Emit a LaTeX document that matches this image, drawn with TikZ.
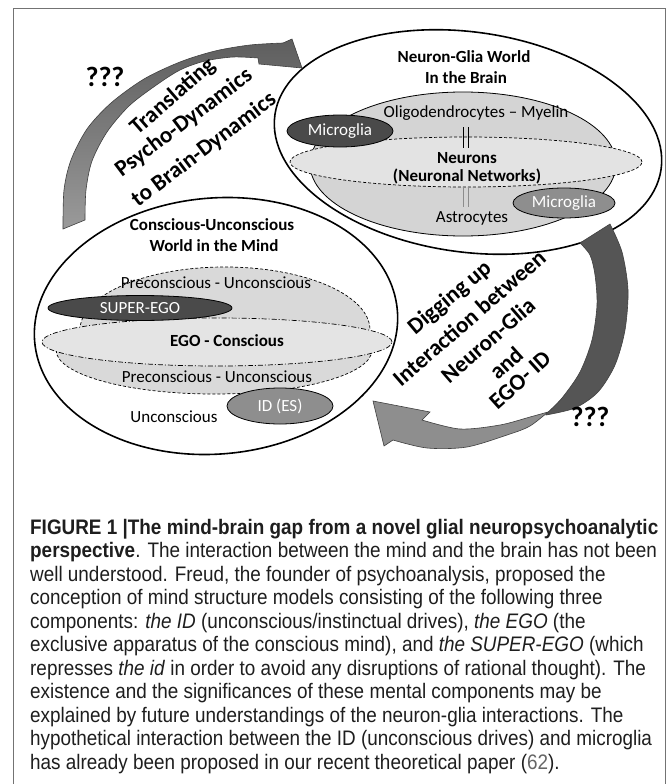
\documentclass[tikz,border=0pt]{standalone}
\usepackage{fontspec}
\setmainfont{Carlito}
\newfontfamily\capfont[FakeStretch=0.9]{Liberation Sans}
\usetikzlibrary{shapes.geometric}
\definecolor{gliafill}{HTML}{D4D4D4}
\definecolor{neurfill}{HTML}{E3E3E3}
\definecolor{prefill}{HTML}{D9D9D9}
\definecolor{egofill}{HTML}{E4E4E4}
\definecolor{darkfill}{HTML}{4A4A4A}
\definecolor{midfill}{HTML}{8E8E8E}
\definecolor{arrdark}{HTML}{5E5E5E}
\definecolor{arrlight}{HTML}{9A9A9A}
\definecolor{captext}{HTML}{1E1E1E}
\begin{document}
\begin{tikzpicture}[x=1pt,y=-1pt,
  lbl/.style={inner sep=0pt, font=\fontsize{17}{19}\selectfont},
  lblb/.style={inner sep=0pt, font=\fontsize{17}{19}\selectfont\bfseries},
  rottext/.style={inner sep=0pt, font=\fontsize{23}{25}\selectfont\bfseries},
  qmarks/.style={inner sep=0pt, font=\fontsize{28}{30}\selectfont\bfseries},
  world/.style={draw, ellipse, line width=1.6pt, inner sep=0pt},
  blob/.style={draw, ellipse, line width=0.8pt, inner sep=0pt},
  predash/.style={line width=0.7pt, dash pattern=on 3pt off 2pt},
  egodash/.style={line width=0.7pt, dash pattern=on 5pt off 2pt on 1pt off 2pt},
  arrowbody/.style={draw=black!75, line width=0.6pt},
  frameline/.style={draw=black!55, line width=0.8pt},
  capline/.style={anchor=base west, inner sep=0pt, text=captext, font=\capfont\fontsize{21}{23.5}\selectfont}
]
\useasboundingbox (0,0) rectangle (670,784);
\fill[white] (0,0) rectangle (670,784);
\draw[frameline] (13,784) -- (13,8) -- (665,8) -- (665,784);

% ---------- Brain world (right) ----------
\node[world, minimum width=390pt, minimum height=220pt, rotate=-8] (brain) at (468,142) {};
\node[blob, fill=gliafill, minimum width=306pt, minimum height=144pt] (glia) at (463,164) {};
\node[blob, fill=neurfill, predash, minimum width=352pt, minimum height=50pt] (neur) at (466,162) {};
\node[blob, fill=darkfill, minimum width=106pt, minimum height=32pt, lbl, text=white] (mglia1) at (340,131) {Microglia};
\node[blob, fill=midfill, minimum width=102pt, minimum height=30pt, lbl, text=white] (mglia2) at (564,203) {Microglia};
\draw[line width=0.9pt] (463,127) -- (463,148) (468,127) -- (468,148);
\draw[line width=0.9pt, black!45] (463,187) -- (463,207) (468,187) -- (468,207);
\node[lblb] (bt1) at (464,57) {Neuron-Glia World};
\node[lblb] (bt2) at (466,78) {In the Brain};
\node[lbl] (oligo) at (476,113) {Oligodendrocytes – Myelin};
\node[lblb] (neurons) at (467,158) {Neurons};
\node[lblb] (nnet) at (467,176) {(Neuronal Networks)};
\node[lbl] (astro) at (472,218) {Astrocytes};

% ---------- Mind world (left) ----------
\node[world, minimum width=364pt, minimum height=256pt, rotate=5] (mind) at (216,326) {};
\fill[prefill] (80,330) arc[start angle=180, end angle=360, x radius=145, y radius=63] -- cycle;
\draw[predash] (80,330) arc[start angle=180, end angle=360, x radius=145, y radius=63];
\fill[prefill] (56,350) arc[start angle=180, end angle=0, x radius=158, y radius=44] -- cycle;
\draw[predash] (56,350) arc[start angle=180, end angle=0, x radius=158, y radius=44];
\node[draw, ellipse, inner sep=0pt, fill=egofill, egodash, minimum width=350pt, minimum height=48pt] (ego) at (217,342) {};
\node[blob, fill=darkfill, minimum width=184pt, minimum height=25pt, lbl, text=white] (superego) at (140,308) {SUPER-EGO};
\node[blob, fill=midfill, minimum width=106pt, minimum height=36pt, lbl, text=white] (id) at (280,406) {ID (ES)};
\node[lblb] (mt1) at (212,225) {Conscious-Unconscious};
\node[lblb] (mt2) at (214,246) {World in the Mind};
\node[lbl] (pre1) at (216,283) {Preconscious - Unconscious};
\node[lblb] (egotext) at (227,341) {EGO - Conscious};
\node[lbl] (pre2) at (217,377) {Preconscious - Unconscious};
\node[lbl] (uncon) at (174,417) {Unconscious};

% ---------- Arrows ----------
\shade[top color=arrdark, bottom color=arrlight, arrowbody]
  plot[smooth] coordinates {(63,229) (64,190) (71,160) (87,129) (111,103) (144,79) (180,62) (215,51) (250,45) (283,43)}
  -- (292,39) -- (302,68) -- (259,64) -- (258,58)
  -- plot[smooth] coordinates {(258,58) (233,57) (205,61) (180,70) (155,86) (129,106) (107,132) (92,161) (86,190) (85,220)}
  -- cycle;
\fill[fill=arrdark!90!black, arrowbody]
  plot[smooth] coordinates {(610,224) (622,252) (628,290) (625,330) (615,365) (598,392) (575,408) (546,415)}
  -- plot[smooth] coordinates {(546,414) (562,398) (580,372) (592,340) (597,305) (595,275) (590,255) (580,243)}
  -- cycle;
\fill[fill=midfill, arrowbody]
  (373,401) -- (430,412) -- (422,420)
  -- plot[smooth] coordinates {(422,420) (460,429) (500,425) (530,417) (548,412)}
  -- plot[smooth] coordinates {(548,412) (530,426) (510,434) (467,447) (427,448) (393,440)}
  -- (384,446) -- cycle;

% ---------- Rotated labels ----------
\node[rottext, rotate=41] (tr1) at (173,97) {Translating};
\node[rottext, rotate=37] (tr2) at (184,123) {Psycho-Dynamics};
\node[rottext, rotate=37] (tr3) at (204,150) {to Brain-Dynamics};
\node[rottext, rotate=40] (dg1) at (450,298) {Digging up};
\node[rottext, rotate=41] (dg2) at (469,318) {Interaction between};
\node[rottext, rotate=41] (dg3) at (488,340) {Neuron-Glia};
\node[rottext, rotate=42] (dg4) at (506,363) {and};
\node[rottext, rotate=42] (dg5) at (520,380) {EGO- ID};
\node[qmarks] (q1) at (105,77) {???};
\node[qmarks] (q2) at (590,417) {???};

% ---------- Caption ----------
\node[capline] (c1) at (30,534) {\bfseries FIGURE 1 |The mind-brain gap from a novel glial neuropsychoanalytic};
\node[capline] (c2) at (30,557.5) {\textbf{perspective}. The interaction between the mind and the brain has not been};
\node[capline] (c3) at (30,581) {well understood. Freud, the founder of psychoanalysis, proposed the};
\node[capline] (c4) at (30,604.5) {conception of mind structure models consisting of the following three};
\node[capline] (c5) at (30,628) {components: \textit{the ID} (unconscious/instinctual drives), \textit{the EGO} (the};
\node[capline] (c6) at (30,651.5) {exclusive apparatus of the conscious mind), and \textit{the SUPER-EGO} (which};
\node[capline] (c7) at (30,675) {represses \textit{the id} in order to avoid any disruptions of rational thought). The};
\node[capline] (c8) at (30,698.5) {existence and the significances of these mental components may be};
\node[capline] (c9) at (30,722) {explained by future understandings of the neuron-glia interactions. The};
\node[capline] (c10) at (30,745.5) {hypothetical interaction between the ID (unconscious drives) and microglia};
\node[capline] (c11) at (30,769) {has already been proposed in our recent theoretical paper ({\color{black!60}62}).};
\end{tikzpicture}
\end{document}
